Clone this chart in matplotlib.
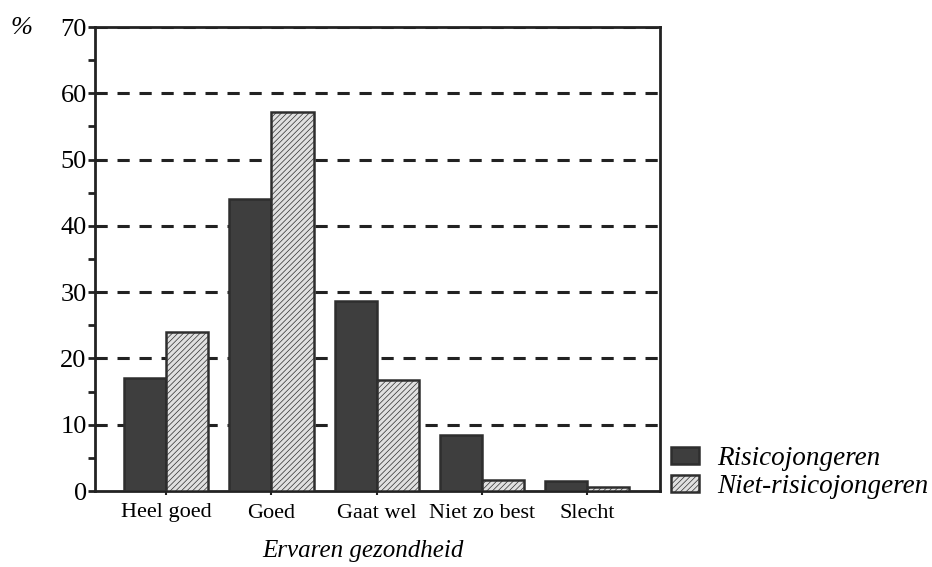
import matplotlib
matplotlib.use("Agg")
import matplotlib.pyplot as plt
import numpy as np

categories = ["Heel goed", "Goed", "Gaat wel", "Niet zo best", "Slecht"]
risico = [17.0, 44.0, 28.7, 8.4, 1.5]
niet_risico = [24.0, 57.2, 16.7, 1.7, 0.6]
series_labels = ["Risicojongeren", "Niet-risicojongeren"]
yticks = [0, 10, 20, 30, 40, 50, 60, 70]

plt.rcParams['font.family'] = ['Liberation Serif', 'DejaVu Serif']
plt.rcParams['hatch.linewidth'] = 0.5

fig = plt.figure(figsize=(9.32, 5.67), dpi=100)
ax = fig.add_axes([95/932, 1-491/567, (660-95)/932, (491-27)/567])

x = np.arange(len(categories))
w = 0.4
edge = '#2e2e2e'
ax.bar(x - w/2, risico, w, color='#3e3e3e', edgecolor=edge, linewidth=1.8,
       label=series_labels[0], zorder=3)
ax.bar(x + w/2, niet_risico, w, color='#e0e0e0', edgecolor=edge, linewidth=1.8,
       hatch='//////', label=series_labels[1], zorder=3)

ax.set_xlim(-0.675, 4.69)
ax.set_ylim(0, 70)
ax.set_yticks(yticks)
ax.set_yticks(np.arange(5, 70, 10), minor=True)
ax.set_xticks(x)
ax.set_xticklabels(categories, fontsize=16)
ax.tick_params(axis='y', labelsize=19, direction='out', length=5, width=2, pad=1, color='#222')
ax.tick_params(axis='y', which='minor', direction='out', length=5, width=2, color='#222')
ax.tick_params(axis='x', direction='out', length=3, width=1.5, pad=6, color='#222')

for yv in yticks[1:]:
    ax.axhline(yv, color='#222222', linestyle=(0, (4, 3.2)), linewidth=2.2, zorder=1)

for s in ax.spines.values():
    s.set_linewidth(2)
    s.set_color('#222222')

ax.set_xlabel("Ervaren gezondheid", fontsize=18, style='italic')
ax.xaxis.set_label_coords(0.475, -0.105)
fig.text(10/932, 1-28/567, "%", fontsize=19, style='italic', va='center', ha='left')

leg = ax.legend(loc='lower left', bbox_to_anchor=(671/932, 1-499/567),
                bbox_transform=fig.transFigure, frameon=False,
                prop={'size': 19.5, 'style': 'italic'}, handlelength=1.05,
                handleheight=0.6, handletextpad=0.65, labelspacing=0.1,
                borderpad=0, borderaxespad=0)

fig.savefig("out.png", dpi=100)
